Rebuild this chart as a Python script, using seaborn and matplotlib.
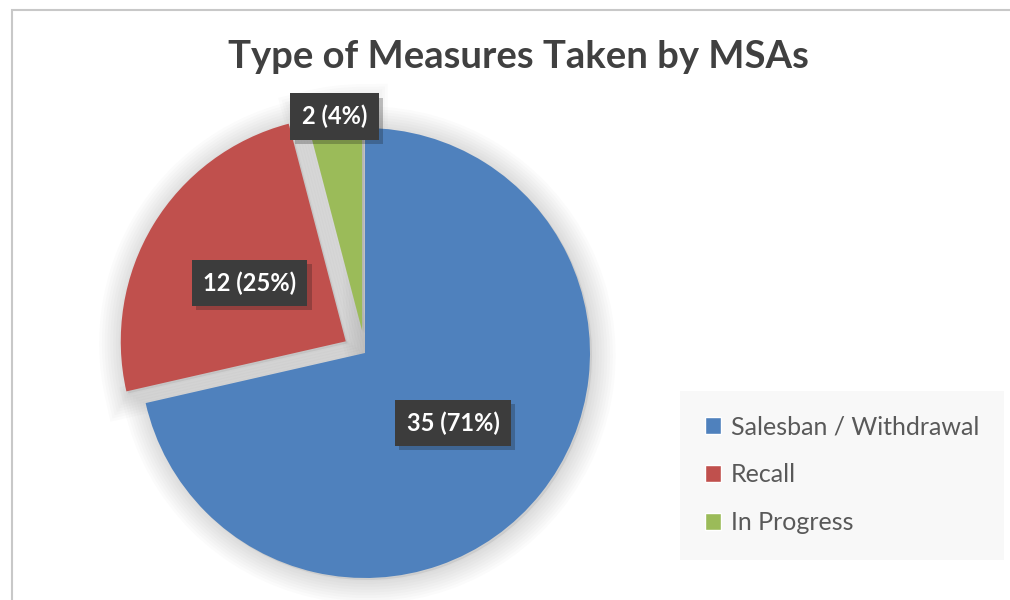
import math
import matplotlib
matplotlib.use("Agg")
import matplotlib.pyplot as plt
import matplotlib.patheffects as pe
from matplotlib.patches import Rectangle, Patch
import seaborn as sns

# Values
categories = ["Salesban / Withdrawal", "Recall", "In Progress"]
counts = [35, 12, 2]
percents = [71, 25, 4]
explode_frac = [0.0, 0.1, 0.1]
label_dist = [0.5, 0.5, 0.96]
colors = ["#4F81BD", "#C0504D", "#9BBB59"]

sns.set_theme(style="white")
plt.rcParams["font.family"] = ["Lato", "DejaVu Sans"]

W, H = 1010, 600
fig = plt.figure(figsize=(W / 100, H / 100), dpi=100)
ax = fig.add_axes([0, 0, 1, 1])

# pie geometry in pixel units
cx, cy, R = 365, H - 353, 225
explode = [e * R for e in explode_frac]
pie_kw = dict(explode=explode, radius=R, startangle=90, counterclock=False)

# soft shadow: a light gray base plus stacked translucent outlines
ax.pie(counts, center=(cx + 2, cy - 2), colors=["#808080"] * 3,
       wedgeprops=dict(linewidth=0, alpha=0.16), **pie_kw)
for lw in range(34, 0, -4):
    ax.pie(counts, center=(cx + 2, cy - 2), colors=["none"] * 3,
           wedgeprops=dict(linewidth=lw, edgecolor=(0.5, 0.5, 0.5, 0.03)), **pie_kw)

wedges, _ = ax.pie(counts, center=(cx, cy), colors=colors,
                   wedgeprops=dict(linewidth=0), **pie_kw)

# data labels in dark boxes
for w, n, p, d in zip(wedges, counts, percents, label_dist):
    ang = math.radians((w.theta1 + w.theta2) / 2)
    x = w.center[0] + d * R * math.cos(ang)
    y = w.center[1] + d * R * math.sin(ang)
    t = ax.text(x, y, f"{n} ({p}%)", ha="center", va="center", color="white",
                fontsize=17, fontweight="bold", zorder=5,
                bbox=dict(boxstyle="square,pad=0.48", fc="#3c3c3c", ec="none"))
    t.get_bbox_patch().set_path_effects(
        [pe.SimplePatchShadow(offset=(3, -3), alpha=0.25), pe.Normal()])

fig.text(0.513, 1 - 57 / H, "Type of Measures Taken by MSAs", ha="center",
         va="center", fontsize=27.5, fontweight="bold", color="#404040")

handles = [Patch(facecolor=c) for c in colors]
leg = ax.legend(handles, categories, loc="center left",
                bbox_to_anchor=(667 / W, 1 - 475 / H), bbox_transform=fig.transFigure,
                frameon=True, facecolor="#f8f8f8", edgecolor="none", fancybox=False,
                framealpha=1, fontsize=18, labelcolor="#595959",
                handlelength=0.65, handleheight=0.65, labelspacing=1.0,
                borderpad=1.0, handletextpad=0.4)

# chart area border
fig.add_artist(Rectangle((12 / W, -0.1), 1.2, 1.1 - 10 / H, transform=fig.transFigure,
                         fill=False, edgecolor="#c8c8c8", linewidth=1.5))

ax.set_xlim(0, W)
ax.set_ylim(0, H)
ax.set_aspect("equal")
ax.axis("off")

fig.savefig("out.png", dpi=100)
